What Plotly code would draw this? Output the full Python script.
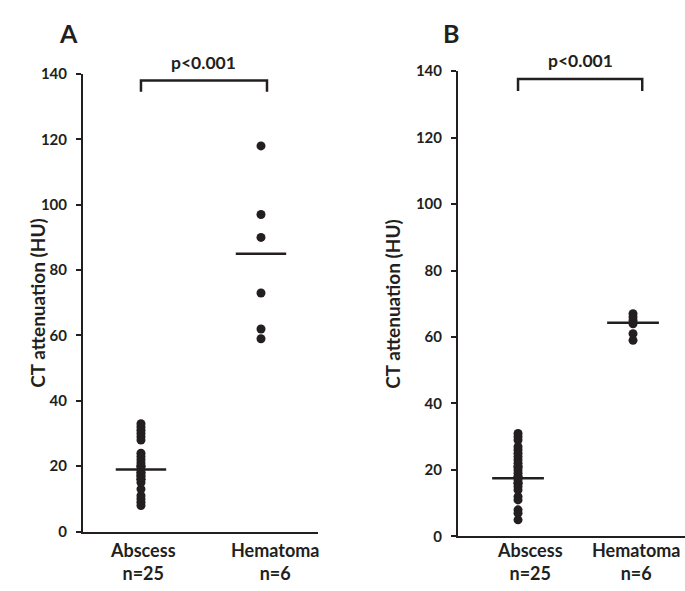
import plotly.graph_objects as go

# ---------------- data ----------------
categories = ["Abscess", "Hematoma"]
category_labels = ["Abscess<br>n=25", "Hematoma<br>n=6"]

a_abscess = [33, 32, 31, 30, 29, 28, 24, 23, 22, 21, 20, 20, 19, 18, 18,
             17, 17, 16, 16, 15, 13, 11, 10, 9, 8]
a_hematoma = [118, 97, 90, 73, 62, 59]
a_means = [19, 85]

b_abscess = [31, 30, 29, 27, 26, 25, 24, 23, 22, 21, 21, 20, 19, 18, 18,
             17, 16, 16, 15, 14, 12, 11, 8, 7, 5]
b_hematoma = [67, 66, 65, 64, 61, 59]
b_means = [17.5, 64.3]

y_ticks = [0, 20, 40, 60, 80, 100, 120, 140]
p_text = "p<0.001"

# ---------------- style ----------------
W, H = 685, 591
INK = "#231f20"
FONT = "Lato"

def px_x(p):
    return p / W

def px_y(p):
    return 1 - p / H

fig = go.Figure()

panels = [
    dict(xa="x", ya="y", xaxis="xaxis", yaxis="yaxis", groups=[a_abscess, a_hematoma],
         means=a_means, xdom=[px_x(83), px_x(318)], ydom=[px_y(538), px_y(66)],
         xrange=[-0.483, 1.475], label_x=[0.02, 1.12], letter="A", letter_x=68,
         title_x=38, bracket=[0.0, 1.05], bracket_y=[134.6, 138.0], halfw=0.21),
    dict(xa="x2", ya="y2", xaxis="xaxis2", yaxis="yaxis2", groups=[b_abscess, b_hematoma],
         means=b_means, xdom=[px_x(458), px_x(685)], ydom=[px_y(543), px_y(63)],
         xrange=[-0.522, 1.452], label_x=[0.10, 1.03], letter="B", letter_x=451,
         title_x=393, bracket=[0.0, 1.08], bracket_y=[134.0, 137.6], halfw=0.225),
]

for p in panels:
    for i, vals in enumerate(p["groups"]):
        fig.add_trace(go.Scatter(
            x=[i] * len(vals), y=vals, mode="markers",
            marker=dict(size=9, color=INK),
            xaxis=p["xa"], yaxis=p["ya"], showlegend=False, hoverinfo="y"))
        m = p["means"][i]
        fig.add_trace(go.Scatter(
            x=[i - p["halfw"], i + p["halfw"]], y=[m, m], mode="lines",
            line=dict(color=INK, width=2.5),
            xaxis=p["xa"], yaxis=p["ya"], showlegend=False, hoverinfo="skip"))

    fig.layout[p["xaxis"]] = dict(
        domain=p["xdom"], range=p["xrange"], showline=True, linecolor=INK, linewidth=2,
        showgrid=False, zeroline=False, showticklabels=False, ticks="",
        anchor=p["ya"])
    fig.layout[p["yaxis"]] = dict(
        domain=p["ydom"], range=[0, 140], showline=True, linecolor=INK, linewidth=2,
        showgrid=False, zeroline=False, tickvals=y_ticks, ticks="outside", ticklen=5,
        tickwidth=1.5, tickcolor=INK, ticklabelstandoff=6,
        tickfont=dict(family=FONT, size=15, color=INK, weight="bold"),
        anchor=p["xa"])

    # category labels
    for i, lab in enumerate(category_labels):
        fig.add_annotation(x=p["label_x"][i], y=px_y(544), xref=p["xa"], yref="paper",
                           text=lab, showarrow=False, yanchor="top", xanchor="center",
                           font=dict(family=FONT, size=18, color=INK, weight="bold"),
                           align="center")
    # y title
    fig.add_annotation(x=px_x(p["title_x"]), y=(p["ydom"][0] + p["ydom"][1]) / 2,
                       xref="paper", yref="paper", text="CT attenuation (HU)",
                       textangle=-90, showarrow=False, xanchor="center", yanchor="middle",
                       font=dict(family=FONT, size=19, color=INK, weight="bold"))
    # panel letter
    fig.add_annotation(x=px_x(p["letter_x"]), y=px_y(24), xref="paper", yref="paper",
                       text=p["letter"], showarrow=False, xanchor="center", yanchor="middle",
                       font=dict(family=FONT, size=25, color=INK, weight="bold"))
    # significance bracket
    x0, x1 = p["bracket"]
    y0, y1 = p["bracket_y"]
    fig.add_shape(type="path", xref=p["xa"], yref=p["ya"],
                  path=f"M {x0},{y0} L {x0},{y1} L {x1},{y1} L {x1},{y0}",
                  line=dict(color=INK, width=2.5))
    fig.add_annotation(x=(x0 + x1) / 2, y=y1, xref=p["xa"], yref=p["ya"],
                       text=p_text, showarrow=False, yanchor="bottom", yshift=6,
                       font=dict(family=FONT, size=17.5, color=INK, weight="bold"))

fig.update_layout(
    width=W, height=H, margin=dict(l=0, r=0, t=0, b=0),
    paper_bgcolor="white", plot_bgcolor="white",
)

fig.write_html("out.html", config={"displayModeBar": False},
               post_script="document.body.style.margin='0';document.body.style.overflow='hidden';")
